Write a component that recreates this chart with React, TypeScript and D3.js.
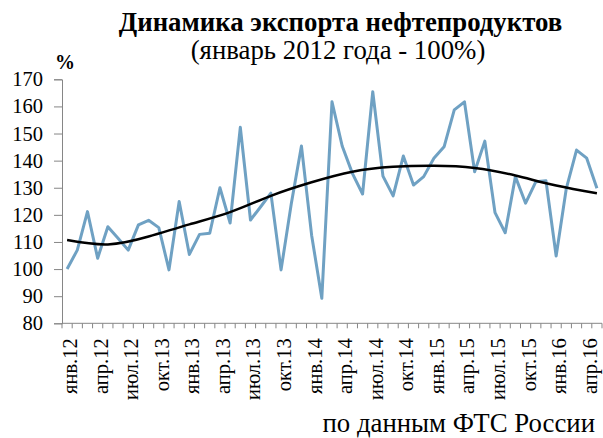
import React, { useEffect, useRef } from "react";
import * as d3 from "d3";

// месяцы: янв.12 ... май.16
const months = [
  "янв.12", "фев.12", "мар.12", "апр.12", "май.12", "июн.12", "июл.12", "авг.12", "сен.12", "окт.13", "ноя.12", "дек.12",
  "янв.13", "фев.13", "мар.13", "апр.13", "май.13", "июн.13", "июл.13", "авг.13", "сен.13", "окт.13", "ноя.13", "дек.13",
  "янв.14", "фев.14", "мар.14", "апр.14", "май.14", "июн.14", "июл.14", "авг.14", "сен.14", "окт.14", "ноя.14", "дек.14",
  "янв.15", "фев.15", "мар.15", "апр.15", "май.15", "июн.15", "июл.15", "авг.15", "сен.15", "окт.15", "ноя.15", "дек.15",
  "янв.16", "фев.16", "мар.16", "апр.16", "май.16",
];

const exportIndex = [
  100, 107, 121.2, 104, 115.6, 111.4, 107, 116.3, 118, 115.3, 99.7, 124.9,
  105.4, 112.8, 113.2, 130, 117, 152.3, 118.1, 123, 128, 99.7, 124, 145.4,
  112.5, 89.2, 161.7, 145.4, 135.3, 127.7, 165.4, 134.3, 127, 141.7, 131, 134.1,
  140.9, 145.1, 158.7, 161.7, 135.9, 147.2, 120.8, 113.4, 134.1, 124.3, 132.2, 132.6,
  104.8, 129.8, 143.9, 140.9, 129.8,
];

// полиномиальная линия тренда
const trendIdx = [0, 4, 8, 12, 16, 20, 24, 28, 32, 36, 40, 44, 48, 52];
const trendVal = [110.7, 109.1, 112, 116.5, 121, 127, 132, 135.9, 137.7, 138.1, 137.3, 134.5, 130.8, 128];

const yTicks = [80, 90, 100, 110, 120, 130, 140, 150, 160, 170];

const W = 603;
const H = 438;
const margin = { top: 79.3, right: 1, bottom: 114.7, left: 62 };

const App = () => {
  const ref = useRef<SVGSVGElement>(null);

  useEffect(() => {
    const svg = d3.select(ref.current);
    svg.selectAll("*").remove();
    const font = "'Liberation Serif', 'Times New Roman', serif";

    const x = d3
      .scaleBand()
      .domain(months.map((_, i) => String(i)))
      .range([margin.left, W - margin.right]);
    const xc = (i: number) => (x(String(i)) as number) + x.bandwidth() / 2;
    const xLin = d3
      .scaleLinear()
      .domain([0, months.length - 1])
      .range([xc(0), xc(months.length - 1)]);

    const y = d3
      .scaleLinear()
      .domain([80, 170])
      .range([H - margin.bottom, margin.top]);

    // title
    svg.append("text")
      .attr("x", 340.5).attr("y", 31)
      .attr("text-anchor", "middle")
      .attr("font-family", font).attr("font-size", 26.8).attr("font-weight", "bold")
      .text("Динамика экспорта нефтепродуктов");
    svg.append("text")
      .attr("x", 338).attr("y", 59)
      .attr("text-anchor", "middle")
      .attr("font-family", font).attr("font-size", 26.8)
      .text("(январь 2012 года - 100%)");
    svg.append("text")
      .attr("x", 55).attr("y", 69)
      .attr("font-family", font).attr("font-size", 20).attr("font-weight", "bold")
      .text("%");

    // y axis
    const gy = svg.append("g").attr("transform", `translate(${margin.left},0)`)
      .call(d3.axisLeft(y).tickValues(yTicks).tickSize(8).tickPadding(11));
    gy.select(".domain").attr("stroke", "#868686");
    gy.selectAll(".tick line").attr("stroke", "#868686");
    gy.selectAll(".tick text")
      .attr("font-family", font).attr("font-size", 20.5).attr("fill", "#000");

    // x axis
    const gx = svg.append("g").attr("transform", `translate(0,${y(80)})`);
    gx.append("line")
      .attr("x1", margin.left).attr("x2", W - margin.right)
      .attr("stroke", "#868686");
    gx.selectAll("line.tk")
      .data(d3.range(months.length + 1))
      .enter().append("line")
      .attr("class", "tk")
      .attr("x1", (i) => margin.left + i * x.bandwidth())
      .attr("x2", (i) => margin.left + i * x.bandwidth())
      .attr("y1", 0).attr("y2", 5)
      .attr("stroke", "#868686");
    gx.selectAll("text")
      .data(months.map((m, i) => ({ m, i })).filter((d) => d.i % 3 === 0))
      .enter().append("text")
      .attr("transform", (d) => `translate(${xc(d.i) + 10},15) rotate(-90)`)
      .attr("text-anchor", "end")
      .attr("font-family", font).attr("font-size", 20.5)
      .text((d) => d.m);

    // data line
    const line = d3.line<number>()
      .x((_, i) => xc(i))
      .y((d) => y(d));
    svg.append("path")
      .datum(exportIndex)
      .attr("d", line)
      .attr("fill", "none")
      .attr("stroke", "#6fa1c3")
      .attr("stroke-width", 3)
      .attr("stroke-linejoin", "round");

    // trend
    const trend = d3.line<number>()
      .x((_, i) => xLin(trendIdx[i]))
      .y((d) => y(d))
      .curve(d3.curveNatural);
    svg.append("path")
      .datum(trendVal)
      .attr("d", trend)
      .attr("fill", "none")
      .attr("stroke", "#000")
      .attr("stroke-width", 2.5);

    // source
    svg.append("text")
      .attr("x", 595).attr("y", 432)
      .attr("text-anchor", "end")
      .attr("font-family", font).attr("font-size", 26.8)
      .text("по данным ФТС России");
  }, []);

  return (
    <svg
      ref={ref}
      width={W}
      height={H}
      style={{ position: "absolute", left: 0, top: 0, background: "#fff" }}
    />
  );
};

export default App;
